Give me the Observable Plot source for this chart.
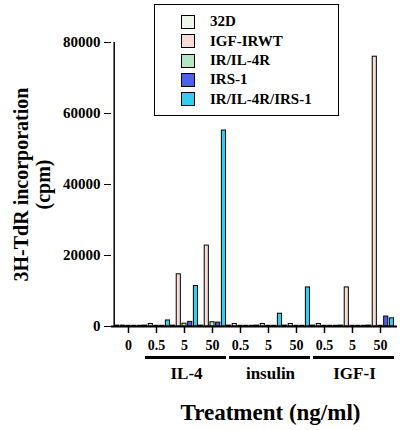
<!DOCTYPE html>
<html><head><meta charset="utf-8">
<script src="https://cdn.jsdelivr.net/npm/d3@7"></script>
<script src="https://cdn.jsdelivr.net/npm/@observablehq/plot@0.6"></script>
<style>
body{margin:0;background:#fff;}
#wrap{position:relative;width:400px;height:430px;font-family:"Liberation Serif",serif;font-weight:bold;color:#000;}
#legend{position:absolute;left:154px;top:4px;width:183px;height:110px;border:1.5px solid #000;background:#fff;box-sizing:content-box;}
.row{position:absolute;left:26px;height:16px;display:flex;align-items:center;font-size:15px;white-space:nowrap;}
.sw{width:12px;height:12px;border:1px solid #000;margin-right:15px;flex:none;}
</style></head><body><div id="wrap"></div>
<script>
// categories along x (unique keys), their dose labels and treatment groups
const categories = ["0", "IL-4 0.5", "IL-4 5", "IL-4 50", "insulin 0.5", "insulin 5", "insulin 50", "IGF-I 0.5", "IGF-I 5", "IGF-I 50"];
const doseLabels = ["0", "0.5", "5", "50", "0.5", "5", "50", "0.5", "5", "50"];
const groupNames = ["IL-4", "insulin", "IGF-I"];
const groupFirst = ["IL-4 0.5", "insulin 0.5", "IGF-I 0.5"];
const groupLast = ["IL-4 50", "insulin 50", "IGF-I 50"];
const groupMid = ["IL-4 5", "insulin 5", "IGF-I 5"];

// series (cell lines) and their values (cpm)
const seriesNames = ["32D", "IGF-IRWT", "IR/IL-4R", "IRS-1", "IR/IL-4R/IRS-1"];
const seriesColors = ["#eef6ec", "#f8dcd8", "#b4e6c2", "#4d60ec", "#33cdf0"];
const v32D      = [250, 250, 250, 250, 250, 250, 250, 250, 250, 250];
const vIGFIRWT  = [250, 700, 14700, 22800, 700, 700, 700, 700, 11000, 76000];
const vIRIL4R   = [200, 200, 800, 1200, 200, 200, 200, 200, 200, 200];
const vIRS1     = [200, 200, 1300, 1100, 200, 200, 200, 200, 200, 2800];
const vTriple   = [200, 1700, 11400, 55200, 200, 3600, 11000, 200, 200, 2300];
const seriesValues = [v32D, vIGFIRWT, vIRIL4R, vIRS1, vTriple];

const yTicks = [0, 20000, 40000, 60000, 80000];

const W = 400, H = 430;
const mL = 111, mR = 3, mT = 42, mB = 104;
const step = (W - mL - mR) / categories.length;
const bw = step / seriesNames.length;

const rows = seriesNames.map((s, i) => categories.map((c, j) => ({cat: c, series: s, value: seriesValues[i][j]})));
const groups = groupNames.map((g, i) => ({name: g, first: groupFirst[i], last: groupLast[i], mid: groupMid[i]}));

const font = "Liberation Serif";
const barMarks = seriesNames.map((s, i) => Plot.barY(rows[i], {
  x: "cat", y: "value", fill: seriesColors[i], stroke: "#000", strokeWidth: 1,
  insetLeft: i * bw + 0.5, insetRight: (seriesNames.length - 1 - i) * bw + 0.5
}));

const chart = Plot.plot({
  width: W, height: H,
  marginLeft: mL, marginRight: mR, marginTop: mT, marginBottom: mB,
  style: {fontFamily: font, fontWeight: "bold", color: "#000", background: "#fff", overflow: "visible"},
  x: {domain: categories, padding: 0, axis: null},
  y: {domain: [0, 80000], axis: null},
  marks: [
    ...barMarks,
    Plot.ruleY([0], {stroke: "#000", strokeWidth: 2}),
    Plot.ruleX([categories[0]], {y1: 0, y2: 80000, dx: -step / 2, stroke: "#000", strokeWidth: 1.5}),
    Plot.axisY({ticks: yTicks, tickFormat: "d", tickSize: 7, tickPadding: 4, fontSize: 15, fontWeight: "bold", label: null}),
    Plot.axisX({tickFormat: (d) => doseLabels[categories.indexOf(d)], tickSize: 7, tickPadding: 7, fontSize: 14, fontWeight: "bold", label: null, strokeWidth: 1.5}),
    Plot.ruleY(groups, {y: 0, x1: "first", x2: "last", dy: 31, insetLeft: 3, stroke: "#000", strokeWidth: 3}),
    Plot.text(groups, {x: "mid", y: 0, text: "name", dy: 47, dx: 2, fontSize: 17, fontWeight: "bold"}),
    Plot.text(["Treatment (ng/ml)"], {x: () => "insulin 5", y: () => 0, text: d => d, dy: 86, dx: 2, fontSize: 23, fontWeight: "bold"}),
    Plot.text(["3H-TdR incorporation\n(cpm)"], {frameAnchor: "left", textAnchor: "middle", text: d => d, rotate: -90, dx: -80, fontSize: 20, fontWeight: "bold", lineHeight: 1.1})
  ]
});

const wrap = document.getElementById("wrap");
wrap.appendChild(chart);

const legend = document.createElement("div");
legend.id = "legend";
const rowCenters = [16.5, 36, 55.5, 74.5, 94];
seriesNames.forEach((s, i) => {
  const r = document.createElement("div");
  r.className = "row";
  r.style.top = (rowCenters[i] - 8) + "px";
  const sw = document.createElement("div");
  sw.className = "sw";
  sw.style.background = seriesColors[i];
  r.appendChild(sw);
  const t = document.createElement("span");
  t.textContent = s;
  r.appendChild(t);
  legend.appendChild(r);
});
wrap.appendChild(legend);
</script>
</body></html>
